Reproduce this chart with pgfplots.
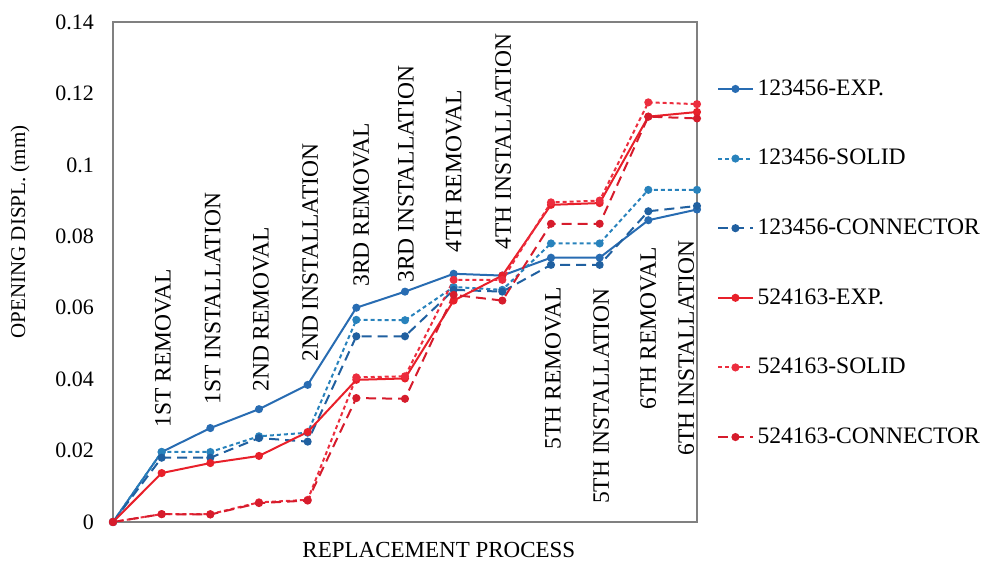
\documentclass[border=0pt]{standalone}
\usepackage{fontspec}
\setmainfont{Liberation Serif}
\usepackage{pgfplots}
\pgfplotsset{compat=1.18}
\definecolor{cb1}{RGB}{40,108,178}
\definecolor{cb2}{RGB}{40,130,188}
\definecolor{cb3}{RGB}{32,96,160}
\definecolor{cr1}{RGB}{232,32,42}
\definecolor{cr2}{RGB}{236,45,62}
\definecolor{cr3}{RGB}{214,28,44}
\begin{document}
\begin{tikzpicture}
\path[use as bounding box] (-56.5pt,-20.5pt) rectangle (434.5pt,261pt);
\begin{axis}[
  at={(0pt,0pt)}, anchor=south west, scale only axis,
  width=292pt, height=250pt,
  xmin=0, xmax=12, ymin=0, ymax=0.14,
  xtick=\empty,
  ytick={0,0.02,0.04,0.06,0.08,0.1,0.12,0.14},
  major tick length=0pt,
  /pgf/number format/assume math mode=true,
  yticklabel style={font=\fontsize{11}{13}\selectfont, xshift=-6pt, /pgf/number format/fixed, /pgf/number format/precision=2},
  axis line style={draw=black!50, line width=0.8pt},
  ylabel={OPENING DISPL. (mm)},
  ylabel style={at={(axis description cs:-0.159,0.58)}, anchor=center, font=\fontsize{10.5}{12}\selectfont},
  xlabel={REPLACEMENT PROCESS},
  xlabel style={at={(axis description cs:0.558,-0.056)}, anchor=center, font=\fontsize{11.5}{13}\selectfont},
  every axis plot/.append style={line width=1pt, mark=*, mark size=1.5pt, mark options={solid}},
  legend style={at={(axis description cs:1,0.518)}, anchor=west, xshift=10pt, draw=none, fill=none, row sep=21.5pt, font=\fontsize{11.8}{14}\selectfont, inner sep=0pt},
  legend cell align=left,
]
\addplot[cb1] coordinates {(0,0) (1,0.0196) (2,0.0263) (3,0.0316) (4,0.0384) (5,0.0600) (6,0.0645) (7,0.0695) (8,0.0690) (9,0.0740) (10,0.0740) (11,0.0845) (12,0.0875)};
\addplot[cb2, dash pattern=on 2pt off 1.5pt] coordinates {(0,0) (1,0.0196) (2,0.0196) (3,0.0240) (4,0.0250) (5,0.0566) (6,0.0565) (7,0.0658) (8,0.0650) (9,0.0780) (10,0.0780) (11,0.0930) (12,0.0930)};
\addplot[cb3, dash pattern=on 5pt off 3pt] coordinates {(0,0) (1,0.0180) (2,0.0180) (3,0.0235) (4,0.0225) (5,0.0520) (6,0.0520) (7,0.0650) (8,0.0645) (9,0.0720) (10,0.0720) (11,0.0870) (12,0.0885)};
\addplot[cr1] coordinates {(0,0) (1,0.0137) (2,0.0165) (3,0.0185) (4,0.0252) (5,0.0398) (6,0.0402) (7,0.0620) (8,0.0690) (9,0.0888) (10,0.0893) (11,0.1135) (12,0.1148)};
\addplot[cr2, dash pattern=on 2pt off 1.5pt] coordinates {(0,0) (1,0.0022) (2,0.0022) (3,0.0055) (4,0.0062) (5,0.0405) (6,0.0408) (7,0.0678) (8,0.0678) (9,0.0895) (10,0.0900) (11,0.1175) (12,0.1170)};
\addplot[cr3, dash pattern=on 5pt off 3pt] coordinates {(0,0) (1,0.0022) (2,0.0021) (3,0.0053) (4,0.0060) (5,0.0347) (6,0.0345) (7,0.0636) (8,0.0620) (9,0.0835) (10,0.0835) (11,0.1135) (12,0.1130)};
\legend{123456-EXP., 123456-SOLID, 123456-CONNECTOR, 524163-EXP., 524163-SOLID, 524163-CONNECTOR}
\begin{scope}[every node/.style={rotate=90, inner sep=0pt, font=\fontsize{11.75}{14}\selectfont}]
\node[anchor=west] at (axis cs:1.03,0.0263) {1ST REMOVAL};
\node[anchor=west] at (axis cs:2.05,0.0328) {1ST INSTALLATION};
\node[anchor=west] at (axis cs:3.04,0.0364) {2ND REMOVAL};
\node[anchor=west] at (axis cs:4.05,0.0448) {2ND INSTALLATION};
\node[anchor=west] at (axis cs:5.1,0.0658) {3RD REMOVAL};
\node[anchor=west] at (axis cs:6.02,0.0669) {3RD INSTALLATION};
\node[anchor=west] at (axis cs:7.0,0.0753) {4TH REMOVAL};
\node[anchor=west] at (axis cs:8.02,0.0762) {4TH INSTALLATION};
\node[anchor=east] at (axis cs:9.04,0.0658) {5TH REMOVAL};
\node[anchor=east] at (axis cs:10.03,0.0655) {5TH INSTALLATION};
\node[anchor=east] at (axis cs:11.0,0.0770) {6TH REMOVAL};
\node[anchor=east] at (axis cs:11.78,0.0790) {6TH INSTALLATION};
\end{scope}
\end{axis}
\end{tikzpicture}
\end{document}
